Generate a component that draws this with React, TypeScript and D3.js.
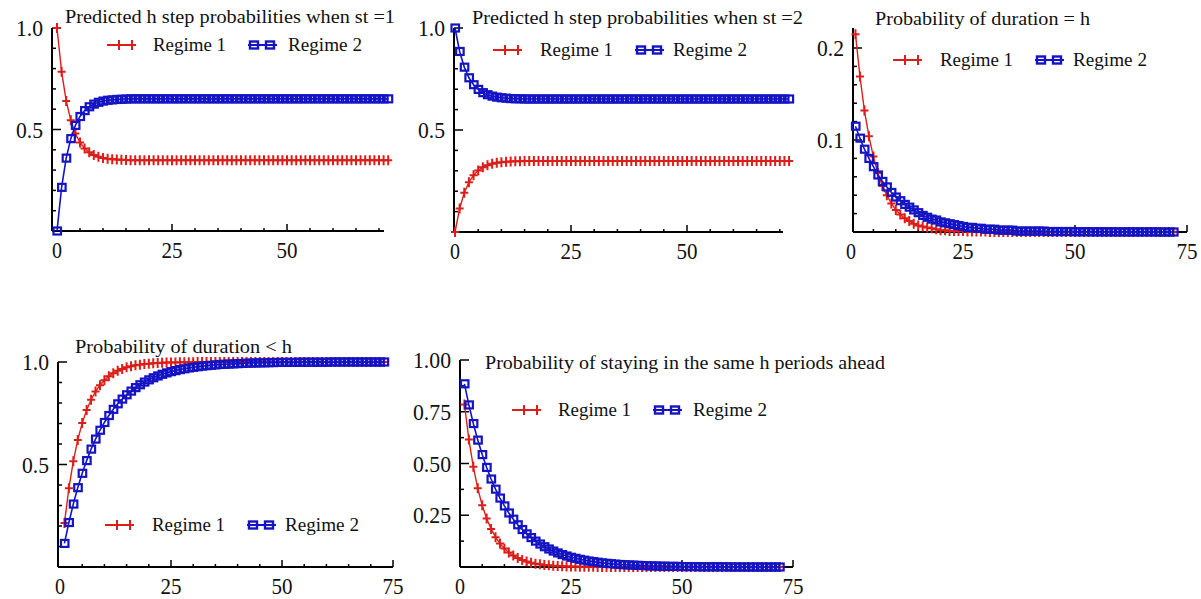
import React from "react";
import * as d3 from "d3";

// ---------- DATA ----------
const H_PRED = d3.range(0, 73); // h = 0..72
const H_DUR = d3.range(1, 73); // h = 1..72
const H_CUM = d3.range(1, 74); // h = 1..73
const H_STAY = d3.range(1, 73); // h = 1..72

const PRED1_R1 = [
  1.0, 0.785, 0.641, 0.545, 0.48, 0.436, 0.407, 0.388, 0.375, 0.366, 0.36, 0.356, 0.354, 0.352, 0.351, 0.35,
  0.349, 0.349, 0.349, 0.349, 0.349, 0.349, 0.349, 0.349, 0.349, 0.349, 0.349, 0.349, 0.349, 0.349, 0.349, 0.349,
  0.349, 0.349, 0.349, 0.349, 0.349, 0.349, 0.349, 0.349, 0.349, 0.349, 0.349, 0.349, 0.349, 0.349, 0.349, 0.349,
  0.349, 0.349, 0.349, 0.349, 0.349, 0.349, 0.349, 0.349, 0.349, 0.349, 0.349, 0.349, 0.349, 0.349, 0.349, 0.349,
  0.349, 0.349, 0.349, 0.349, 0.349, 0.349, 0.349, 0.349, 0.349,
];
const PRED1_R2 = [
  0.0, 0.215, 0.359, 0.455, 0.52, 0.564, 0.593, 0.612, 0.625, 0.634, 0.64, 0.644, 0.646, 0.648, 0.649, 0.65,
  0.651, 0.651, 0.651, 0.651, 0.651, 0.651, 0.651, 0.651, 0.651, 0.651, 0.651, 0.651, 0.651, 0.651, 0.651, 0.651,
  0.651, 0.651, 0.651, 0.651, 0.651, 0.651, 0.651, 0.651, 0.651, 0.651, 0.651, 0.651, 0.651, 0.651, 0.651, 0.651,
  0.651, 0.651, 0.651, 0.651, 0.651, 0.651, 0.651, 0.651, 0.651, 0.651, 0.651, 0.651, 0.651, 0.651, 0.651, 0.651,
  0.651, 0.651, 0.651, 0.651, 0.651, 0.651, 0.651, 0.651, 0.651,
];
const PRED2_R1 = [
  0.0, 0.115, 0.192, 0.244, 0.278, 0.301, 0.317, 0.327, 0.334, 0.339, 0.342, 0.344, 0.346, 0.347, 0.347, 0.348,
  0.348, 0.348, 0.348, 0.348, 0.348, 0.348, 0.348, 0.348, 0.348, 0.348, 0.348, 0.348, 0.348, 0.348, 0.348, 0.348,
  0.348, 0.348, 0.348, 0.348, 0.348, 0.348, 0.348, 0.348, 0.348, 0.348, 0.348, 0.348, 0.348, 0.348, 0.348, 0.348,
  0.348, 0.348, 0.348, 0.348, 0.348, 0.348, 0.348, 0.348, 0.348, 0.348, 0.348, 0.348, 0.348, 0.348, 0.348, 0.348,
  0.348, 0.348, 0.348, 0.348, 0.348, 0.348, 0.348, 0.348, 0.348,
];
const PRED2_R2 = [
  1.0, 0.885, 0.808, 0.756, 0.722, 0.699, 0.683, 0.673, 0.666, 0.661, 0.658, 0.656, 0.654, 0.653, 0.653, 0.652,
  0.652, 0.652, 0.652, 0.652, 0.652, 0.652, 0.652, 0.652, 0.652, 0.652, 0.652, 0.652, 0.652, 0.652, 0.652, 0.652,
  0.652, 0.652, 0.652, 0.652, 0.652, 0.652, 0.652, 0.652, 0.652, 0.652, 0.652, 0.652, 0.652, 0.652, 0.652, 0.652,
  0.652, 0.652, 0.652, 0.652, 0.652, 0.652, 0.652, 0.652, 0.652, 0.652, 0.652, 0.652, 0.652, 0.652, 0.652, 0.652,
  0.652, 0.652, 0.652, 0.652, 0.652, 0.652, 0.652, 0.652, 0.652,
];
const DUR_R1 = [
  0.215, 0.169, 0.132, 0.104, 0.082, 0.064, 0.05, 0.04, 0.031, 0.024, 0.019, 0.015, 0.012, 0.009, 0.007, 0.006,
  0.005, 0.004, 0.003, 0.002, 0.002, 0.001, 0.001, 0.001, 0.001, 0.0005, 0.0005, 0.0005, 0.0005, 0.0005, 0.0, 0.0,
  0.0, 0.0, 0.0, 0.0, 0.0, 0.0, 0.0, 0.0, 0.0, 0.0, 0.0, 0.0, 0.0, 0.0, 0.0, 0.0,
  0.0, 0.0, 0.0, 0.0, 0.0, 0.0, 0.0, 0.0, 0.0, 0.0, 0.0, 0.0, 0.0, 0.0, 0.0, 0.0,
  0.0, 0.0, 0.0, 0.0, 0.0, 0.0, 0.0, 0.0,
];
const DUR_R2 = [
  0.115, 0.102, 0.09, 0.08, 0.071, 0.062, 0.055, 0.049, 0.043, 0.038, 0.034, 0.03, 0.027, 0.024, 0.021, 0.018,
  0.016, 0.014, 0.013, 0.011, 0.01, 0.009, 0.008, 0.007, 0.006, 0.005, 0.005, 0.004, 0.004, 0.003, 0.003, 0.003,
  0.002, 0.002, 0.002, 0.002, 0.001, 0.001, 0.001, 0.001, 0.001, 0.001, 0.001, 0.0005, 0.0005, 0.0005, 0.0005, 0.0005,
  0.0005, 0.0003, 0.0003, 0.0003, 0.0003, 0.0002, 0.0002, 0.0002, 0.0002, 0.0002, 0.0001, 0.0001, 0.0001, 0.0001, 0.0001, 0.0001,
  0.0001, 0.0001, 0.0001, 0.0001, 0.0, 0.0, 0.0, 0.0,
];
const CUM_R1 = [
  0.215, 0.384, 0.516, 0.62, 0.702, 0.766, 0.816, 0.856, 0.887, 0.911, 0.93, 0.945, 0.957, 0.966, 0.974, 0.979,
  0.984, 0.987, 0.99, 0.992, 0.994, 0.995, 0.996, 0.997, 0.998, 0.998, 0.999, 0.999, 0.999, 0.999, 1.0, 1.0,
  1.0, 1.0, 1.0, 1.0, 1.0, 1.0, 1.0, 1.0, 1.0, 1.0, 1.0, 1.0, 1.0, 1.0, 1.0, 1.0,
  1.0, 1.0, 1.0, 1.0, 1.0, 1.0, 1.0, 1.0, 1.0, 1.0, 1.0, 1.0, 1.0, 1.0, 1.0, 1.0,
  1.0, 1.0, 1.0, 1.0, 1.0, 1.0, 1.0, 1.0, 1.0,
];
const CUM_R2 = [
  0.115, 0.217, 0.307, 0.387, 0.457, 0.519, 0.575, 0.624, 0.667, 0.705, 0.739, 0.769, 0.796, 0.819, 0.84, 0.858,
  0.875, 0.889, 0.902, 0.913, 0.923, 0.932, 0.94, 0.947, 0.953, 0.958, 0.963, 0.967, 0.971, 0.974, 0.977, 0.98,
  0.982, 0.984, 0.986, 0.988, 0.989, 0.99, 0.991, 0.992, 0.993, 0.994, 0.995, 0.995, 0.996, 0.996, 0.997, 0.997,
  0.998, 0.998, 0.998, 0.998, 0.998, 0.999, 0.999, 0.999, 0.999, 0.999, 0.999, 0.999, 1.0, 1.0, 1.0, 1.0,
  1.0, 1.0, 1.0, 1.0, 1.0, 1.0, 1.0, 1.0, 1.0,
];
const STAY_R1 = [
  0.785, 0.616, 0.484, 0.38, 0.298, 0.234, 0.184, 0.144, 0.113, 0.089, 0.07, 0.055, 0.043, 0.034, 0.027, 0.021,
  0.016, 0.013, 0.01, 0.008, 0.006, 0.005, 0.004, 0.003, 0.002, 0.002, 0.001, 0.001, 0.001, 0.001, 0.0, 0.0,
  0.0, 0.0, 0.0, 0.0, 0.0, 0.0, 0.0, 0.0, 0.0, 0.0, 0.0, 0.0, 0.0, 0.0, 0.0, 0.0,
  0.0, 0.0, 0.0, 0.0, 0.0, 0.0, 0.0, 0.0, 0.0, 0.0, 0.0, 0.0, 0.0, 0.0, 0.0, 0.0,
  0.0, 0.0, 0.0, 0.0, 0.0, 0.0, 0.0, 0.0,
];
const STAY_R2 = [
  0.885, 0.783, 0.693, 0.613, 0.543, 0.481, 0.425, 0.376, 0.333, 0.295, 0.261, 0.231, 0.204, 0.181, 0.16, 0.142,
  0.125, 0.111, 0.098, 0.087, 0.077, 0.068, 0.06, 0.053, 0.047, 0.042, 0.037, 0.033, 0.029, 0.026, 0.023, 0.02,
  0.018, 0.016, 0.014, 0.012, 0.011, 0.01, 0.009, 0.008, 0.007, 0.006, 0.005, 0.005, 0.004, 0.004, 0.003, 0.003,
  0.003, 0.002, 0.002, 0.002, 0.002, 0.001, 0.001, 0.001, 0.001, 0.001, 0.001, 0.001, 0.0, 0.0, 0.0, 0.0,
  0.0, 0.0, 0.0, 0.0, 0.0, 0.0, 0.0, 0.0,
];

const SERIES_NAMES = ["Regime 1", "Regime 2"];
const TITLES = [
  "Predicted h step probabilities when st =1",
  "Predicted h step probabilities when st =2",
  "Probability of duration = h",
  "Probability of duration < h",
  "Probability of staying in the same h periods ahead",
];
const X_TICKS_3 = [0, 25, 50];
const X_TICKS_4 = [0, 25, 50, 75];
const Y_TICKS_PROB = [0.5, 1.0];
const Y_LABELS_PROB = ["0.5", "1.0"];
const Y_TICKS_DUR = [0.1, 0.2];
const Y_LABELS_DUR = ["0.1", "0.2"];
const Y_TICKS_STAY = [0.25, 0.5, 0.75, 1.0];
const Y_LABELS_STAY = ["0.25", "0.50", "0.75", "1.00"];

// ---------- STYLE ----------
const RED = "#dc1e1a";
const BLUE = "#1414c4";
const FONT = "'Liberation Serif', 'Times New Roman', serif";

type Cfg = {
  title: string;
  titleX: number;
  titleY: number;
  titleW: number;
  x0: number;
  x75: number;
  axisX1: number;
  axisX2: number;
  yBase: number;
  yRefVal: number;
  yRefPx: number;
  axisYTop: number;
  xTicks: number[];
  xMinorMax: number;
  yTicks: number[];
  yLabels: string[];
  yMinorStep: number;
  yMinorMax: number;
  hs1: number[];
  r1: number[];
  hs2: number[];
  r2: number[];
  legX: number;
  legY: number;
  legText1X: number;
  legBlueX: number;
  legText2X: number;
};

const PANELS: Cfg[] = [
  {
    title: TITLES[0], titleX: 65, titleY: 23, titleW: 330,
    x0: 57, x75: 402, axisX1: 52, axisX2: 384,
    yBase: 231, yRefVal: 1, yRefPx: 28, axisYTop: 28,
    xTicks: X_TICKS_3, xMinorMax: 70,
    yTicks: Y_TICKS_PROB, yLabels: Y_LABELS_PROB, yMinorStep: 0.1, yMinorMax: 0.95,
    hs1: H_PRED, r1: PRED1_R1, hs2: H_PRED, r2: PRED1_R2,
    legX: 107, legY: 45, legText1X: 153, legBlueX: 248, legText2X: 288,
  },
  {
    title: TITLES[1], titleX: 472, titleY: 24, titleW: 331,
    x0: 455, x75: 803, axisX1: 454, axisX2: 783,
    yBase: 232, yRefVal: 1, yRefPx: 28, axisYTop: 28,
    xTicks: X_TICKS_3, xMinorMax: 70,
    yTicks: Y_TICKS_PROB, yLabels: Y_LABELS_PROB, yMinorStep: 0.1, yMinorMax: 0.95,
    hs1: H_PRED, r1: PRED2_R1, hs2: H_PRED, r2: PRED2_R2,
    legX: 493, legY: 50, legText1X: 540, legBlueX: 635, legText2X: 673,
  },
  {
    title: TITLES[2], titleX: 875, titleY: 25, titleW: 215,
    x0: 851, x75: 1187, axisX1: 853, axisX2: 1187,
    yBase: 232, yRefVal: 0.2, yRefPx: 48, axisYTop: 28,
    xTicks: X_TICKS_4, xMinorMax: 72,
    yTicks: Y_TICKS_DUR, yLabels: Y_LABELS_DUR, yMinorStep: 0.02, yMinorMax: 0.215,
    hs1: H_DUR, r1: DUR_R1, hs2: H_DUR, r2: DUR_R2,
    legX: 893, legY: 60, legText1X: 940, legBlueX: 1035, legText2X: 1073,
  },
  {
    title: TITLES[3], titleX: 75, titleY: 353, titleW: 217,
    x0: 60, x75: 393, axisX1: 58, axisX2: 393,
    yBase: 567, yRefVal: 1, yRefPx: 362, axisYTop: 362,
    xTicks: X_TICKS_4, xMinorMax: 72,
    yTicks: Y_TICKS_PROB, yLabels: Y_LABELS_PROB, yMinorStep: 0.1, yMinorMax: 0.95,
    hs1: H_CUM, r1: CUM_R1, hs2: H_CUM, r2: CUM_R2,
    legX: 105, legY: 525, legText1X: 152, legBlueX: 247, legText2X: 285,
  },
  {
    title: TITLES[4], titleX: 485, titleY: 369, titleW: 400,
    x0: 460, x75: 793, axisX1: 460, axisX2: 793,
    yBase: 567, yRefVal: 1, yRefPx: 360, axisYTop: 360,
    xTicks: X_TICKS_4, xMinorMax: 72,
    yTicks: Y_TICKS_STAY, yLabels: Y_LABELS_STAY, yMinorStep: 0.125, yMinorMax: 0.95,
    hs1: H_STAY, r1: STAY_R1, hs2: H_STAY, r2: STAY_R2,
    legX: 512, legY: 410, legText1X: 558, legBlueX: 653, legText2X: 693,
  },
];

const plusPath = "M-4,0H4M0,-5V5";

// width of a tick label: tall, condensed digits
const labelWidth = (s: string) => s.split("").reduce((a, c) => a + (c === "." ? 5 : 11), 0);

function Panel({ cfg }: { cfg: Cfg }) {
  const x = d3.scaleLinear().domain([0, 75]).range([cfg.x0, cfg.x75]);
  const y = d3.scaleLinear().domain([0, cfg.yRefVal]).range([cfg.yBase, cfg.yRefPx]);
  const line = d3
    .line<[number, number]>()
    .x((d) => x(d[0]))
    .y((d) => y(d[1]));
  const d1: [number, number][] = cfg.hs1.map((h, i) => [h, cfg.r1[i]]);
  const d2: [number, number][] = cfg.hs2.map((h, i) => [h, cfg.r2[i]]);

  const xMinor = d3.range(5, cfg.xMinorMax + 0.01, 5).filter((v) => v % 25 !== 0);
  const xMajor = cfg.xTicks.filter((v) => v > 0);
  const yMinor = d3
    .range(cfg.yMinorStep, cfg.yMinorMax, cfg.yMinorStep)
    .filter((v) => !cfg.yTicks.some((t) => Math.abs(t - v) < 1e-6));
  const axisX = cfg.axisX1;

  return (
    <g>
      {/* axes */}
      <line x1={axisX} x2={axisX} y1={cfg.axisYTop} y2={cfg.yBase} stroke="#000" strokeWidth={2} />
      <line x1={cfg.axisX1} x2={cfg.axisX2} y1={cfg.yBase} y2={cfg.yBase} stroke="#000" strokeWidth={2} />
      {xMinor.map((v) => (
        <line key={"xm" + v} x1={x(v)} x2={x(v)} y1={cfg.yBase} y2={cfg.yBase - 3} stroke="#000" strokeWidth={1.5} />
      ))}
      {xMajor.map((v) => (
        <line key={"xM" + v} x1={x(v)} x2={x(v)} y1={cfg.yBase} y2={cfg.yBase - 7} stroke="#000" strokeWidth={1.5} />
      ))}
      {cfg.xTicks.map((v) => {
        const s = String(v);
        return (
          <text
            key={"xl" + v}
            x={x(v)}
            y={cfg.yBase + 27}
            textAnchor="middle"
            fontFamily={FONT}
            fontSize={23}
            fill="#111"
            textLength={labelWidth(s) - 1}
            lengthAdjust="spacingAndGlyphs"
          >
            {s}
          </text>
        );
      })}
      {yMinor.map((v) => (
        <line key={"ym" + v} x1={axisX} x2={axisX + 4} y1={y(v)} y2={y(v)} stroke="#000" strokeWidth={1.5} />
      ))}
      {cfg.yTicks.map((v, i) => (
        <g key={"yM" + v}>
          <line x1={axisX} x2={axisX + 9} y1={y(v)} y2={y(v)} stroke="#000" strokeWidth={1.5} />
          <text
            x={axisX - 9}
            y={y(v) + 8}
            textAnchor="end"
            fontFamily={FONT}
            fontSize={23}
            fill="#111"
            textLength={labelWidth(cfg.yLabels[i])}
            lengthAdjust="spacingAndGlyphs"
          >
            {cfg.yLabels[i]}
          </text>
        </g>
      ))}

      {/* series */}
      <path d={line(d1) || ""} fill="none" stroke={RED} strokeWidth={1.4} />
      {d1.map((d, i) => (
        <path key={"p" + i} d={plusPath} transform={`translate(${x(d[0])},${y(d[1])})`} stroke={RED} strokeWidth={2} fill="none" />
      ))}
      <path d={line(d2) || ""} fill="none" stroke={BLUE} strokeWidth={1.6} />
      {d2.map((d, i) => (
        <rect key={"s" + i} x={x(d[0]) - 3.5} y={y(d[1]) - 3.5} width={7.5} height={7} stroke={BLUE} strokeWidth={2.2} fill="none" />
      ))}

      {/* title */}
      <text x={cfg.titleX} y={cfg.titleY} fontFamily={FONT} fontSize={18} fill="#111" textLength={cfg.titleW} lengthAdjust="spacingAndGlyphs">
        {cfg.title}
      </text>

      {/* legend */}
      <line x1={cfg.legX} x2={cfg.legX + 28} y1={cfg.legY} y2={cfg.legY} stroke={RED} strokeWidth={2} />
      <path d={plusPath} transform={`translate(${cfg.legX + 12},${cfg.legY})`} stroke={RED} strokeWidth={2} />
      <path d={plusPath} transform={`translate(${cfg.legX + 25},${cfg.legY})`} stroke={RED} strokeWidth={2} />
      <text x={cfg.legText1X} y={cfg.legY + 6} fontFamily={FONT} fontSize={18} fill="#111" textLength={73} lengthAdjust="spacingAndGlyphs">
        {SERIES_NAMES[0]}
      </text>
      <line x1={cfg.legBlueX} x2={cfg.legBlueX + 29} y1={cfg.legY} y2={cfg.legY} stroke={BLUE} strokeWidth={2} />
      <rect x={cfg.legBlueX + 2} y={cfg.legY - 3.5} width={8} height={7} stroke={BLUE} strokeWidth={2.4} fill="none" />
      <rect x={cfg.legBlueX + 18} y={cfg.legY - 3.5} width={8} height={7} stroke={BLUE} strokeWidth={2.4} fill="none" />
      <text x={cfg.legText2X} y={cfg.legY + 6} fontFamily={FONT} fontSize={18} fill="#111" textLength={74} lengthAdjust="spacingAndGlyphs">
        {SERIES_NAMES[1]}
      </text>
    </g>
  );
}

export default function App() {
  return (
    <svg
      width={1201}
      height={599}
      style={{ position: "absolute", left: 0, top: 0, background: "#fff" }}
      xmlns="http://www.w3.org/2000/svg"
    >
      <rect x={0} y={0} width={1201} height={599} fill="#fff" />
      {PANELS.map((p, i) => (
        <Panel key={i} cfg={p} />
      ))}
    </svg>
  );
}
